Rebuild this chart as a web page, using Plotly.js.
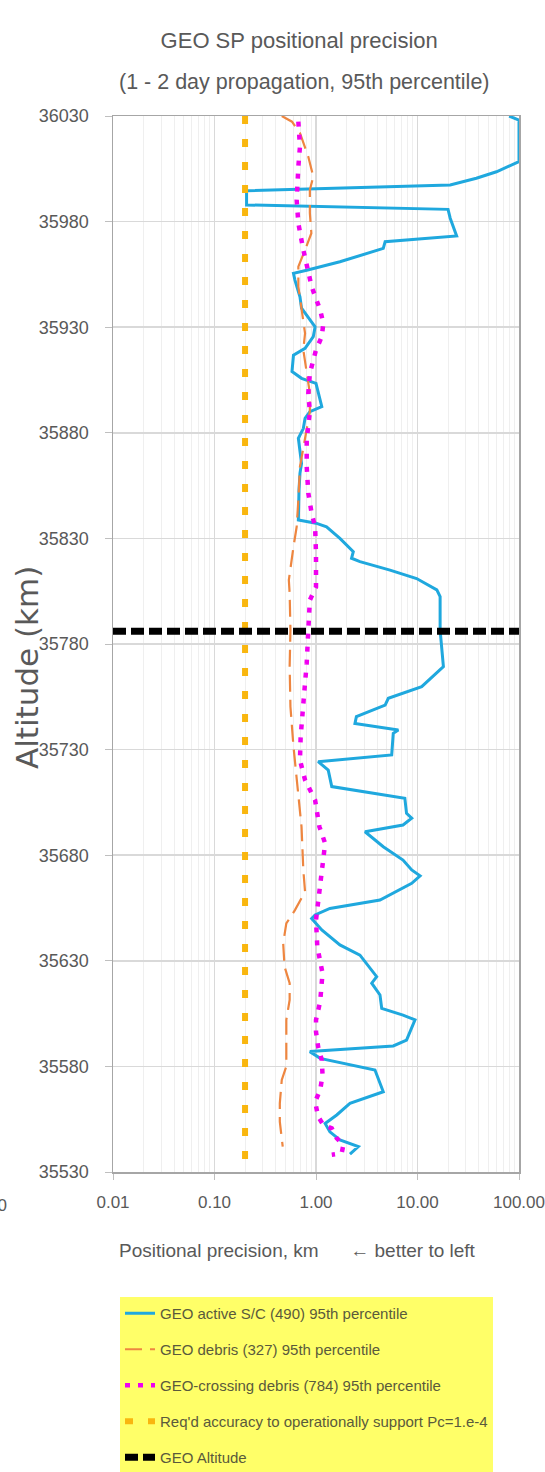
<!DOCTYPE html>
<html>
<head>
<meta charset="utf-8">
<script src="https://cdn.plot.ly/plotly-3.0.1.min.js"></script>
<style>html,body{margin:0;padding:0;background:#fff;}#chart{width:545px;height:1472px;}</style>
</head>
<body>
<div id="chart"></div>
<script>
// ---- data ----
const altActive = [36030,36028,36008.4,36003.6,36000.5,35997.3,35994.6,35987.9,35985.8,35981.6,35973.2,35970.5,35967.3,35961,35957,35955.5,35952.3,35944.4,35939,35930.2,35925.5,35920,35916.8,35909,35905.8,35903.4,35892.4,35890,35886.9,35882,35877.4,35870.3,35865.5,35860.8,35852.9,35838.7,35837.2,35835.5,35830,35823.7,35820.6,35819,35815,35811,35805.6,35802.4,35786.6,35769.3,35759.8,35754.3,35751.1,35745.6,35742.4,35739.3,35737.7,35727.5,35724.3,35720.3,35712.5,35707,35699.8,35697.5,35694.3,35691.1,35686.4,35684,35677.7,35673,35670.2,35666.7,35658.8,35654.8,35651.7,35650,35644.6,35637.5,35632.7,35624.1,35622.5,35619.4,35613.8,35607.5,35604.3,35602,35592.5,35589.7,35587,35583.8,35578.3,35568,35562.5,35557,35553,35549,35545.2,35542,35538.5];
const valActive = [80,100,100,60,38,21,0.207,0.207,20,21,24.3,4.8,4.6,1.72,0.81,0.6,0.62,0.695,0.72,0.98,0.94,0.78,0.6,0.58,0.72,1.0,1.14,0.87,0.78,0.75,0.67,0.695,0.72,0.695,0.68,0.67,1.0,1.27,1.72,2.33,2.24,2.71,5.36,9.8,15.5,16.7,16.7,18,11,5.16,4.8,2.5,2.42,6.47,5.77,5.57,1.05,1.32,1.43,7.5,7.8,8.77,7.2,3.04,3.96,4.6,7.2,8.77,10.6,8.77,4.27,1.37,0.98,0.906,1.14,1.72,2.71,3.67,3.96,3.54,4.27,4.44,7.2,9.45,7.8,5.77,0.87,1.1,3.81,4.6,2.16,1.6,1.23,1.37,1.72,2.61,2.16];

const altDebris = [36030,36027.3,36022,36010.7,36001.3,35995,35984,35974.5,35966.6,35958.7,35949.2,35939.7,35927.1,35919.2,35908.2,35898.7,35890,35878.2,35864,35848.2,35835.5,35826,35810.3,35804,35786.6,35769.3,35750.3,35731.4,35715.6,35693.5,35673,35662.7,35654,35647.7,35638.3,35627.2,35619.4,35611.5,35602,35591,35580,35573.6,35562.5,35553.8,35542];
const valDebris = [0.46,0.58,0.695,0.84,0.94,0.87,0.87,0.9,0.78,0.67,0.67,0.72,0.78,0.75,0.81,0.87,0.87,0.78,0.695,0.67,0.645,0.6,0.54,0.55,0.56,0.55,0.56,0.6,0.645,0.72,0.75,0.78,0.62,0.51,0.475,0.49,0.55,0.55,0.51,0.51,0.51,0.46,0.44,0.44,0.47];

const altCrossing = [36027.3,36015.5,36006,35990.2,35979.2,35966.6,35949.2,35938.1,35931.8,35925.5,35919.2,35908.2,35898.7,35890,35876.6,35864,35851.4,35841.9,35835.5,35823,35807,35800.8,35786.6,35770.9,35755,35736.1,35725.1,35715.6,35706.1,35693.5,35685.6,35672.2,35658.8,35649.3,35636.7,35624.1,35610.8,35602,35596.4,35589.3,35583,35575.9,35568.8,35563.3,35556.2,35552.3,35550.7,35546,35542.8,35538.9,35538.2];
const valCrossing = [0.67,0.695,0.67,0.645,0.67,0.75,0.906,1.1,1.18,1.14,1.0,0.87,0.84,0.87,0.81,0.81,0.84,0.906,0.98,1.0,1.0,0.87,0.84,0.81,0.76,0.706,0.695,0.78,0.98,1.08,1.23,1.14,1.05,1.0,1.03,1.16,1.1,1.0,1.0,1.05,1.14,1.16,1.1,0.98,1.05,1.18,1.43,1.6,1.86,1.79,1.43];

const altRequired = [36030, 35530];
const valRequired = [0.2, 0.2];

const altGeo = [35786, 35786];
const valGeo = [0.01, 100];

const seriesNames = [
  'GEO active S/C (490) 95th percentile',
  'GEO debris (327) 95th percentile',
  'GEO-crossing debris (784) 95th percentile',
  "Req'd accuracy to operationally support Pc=1.e-4",
  'GEO Altitude'
];

const xTickVals = [0.01, 0.1, 1, 10, 100];
const xTickText = ['0.01', '0.10', '1.00', '10.00', '100.00'];
const yTickVals = [35530, 35580, 35630, 35680, 35730, 35780, 35830, 35880, 35930, 35980, 36030];
const yTickText = yTickVals.map(String);

const titleLine1 = 'GEO SP positional precision';
const titleLine2 = '(1 - 2 day propagation, 95th percentile)';
const xTitle = 'Positional precision, km\u00A0\u00A0\u00A0\u00A0\u00A0 \u2190 better to left';
const yTitle = 'Altitude (km)';

// ---- chart ----
const SANS = 'Liberation Sans, Arial, sans-serif';
const GRAY = '#595959';

const traces = [
  {x: valActive, y: altActive, name: seriesNames[0], legendgroup: 'g1', mode: 'lines',
   line: {color: '#1FA8DE', width: 3}},
  {x: valDebris, y: altDebris, name: seriesNames[1], legendgroup: 'g2', mode: 'lines',
   line: {color: '#EE8640', width: 2.2, dash: '17px,8px'}},
  {x: valCrossing, y: altCrossing, name: seriesNames[2], legendgroup: 'g3', mode: 'lines',
   line: {color: '#F000F0', width: 4.5, dash: '5px,8px'}},
  {x: valRequired, y: altRequired, name: seriesNames[3], legendgroup: 'g4', mode: 'lines',
   line: {color: '#F9B60F', width: 6, dash: '8px,15px'}},
  {x: valGeo, y: altGeo, name: seriesNames[4], legendgroup: 'g5', mode: 'lines',
   line: {color: '#000000', width: 7, dash: '13px,5px'}}
].map(t => Object.assign({type: 'scatter', hoverinfo: 'none'}, t));

const layout = {
  width: 545, height: 1472,
  font: {family: SANS, color: GRAY},
  paper_bgcolor: '#ffffff', plot_bgcolor: '#ffffff',
  margin: {l: 113, r: 26, t: 116, b: 300, autoexpand: false},
  showlegend: true,
  title: {text: titleLine1, font: {family: SANS, size: 22, color: GRAY},
          x: 0.549, xref: 'container', xanchor: 'center', y: 1 - 40/1472, yref: 'container', yanchor: 'middle'},
  xaxis: {
    type: 'log', range: [-2, 2],
    tickvals: xTickVals, ticktext: xTickText, ticklabeloverflow: 'allow',
    tickfont: {family: SANS, size: 17, color: GRAY},
    ticks: 'outside', ticklen: 6, tickcolor: '#bfbfbf', ticklabelstandoff: 8,
    showgrid: true, gridcolor: '#d9d9d9', gridwidth: 1.2,
    minor: {dtick: 'D1', showgrid: true, gridcolor: '#efefef', gridwidth: 1, ticks: ''},
    showline: true, linecolor: '#a6a6a6', linewidth: 1.5, mirror: true,
    zeroline: false, fixedrange: true
  },
  yaxis: {
    range: [35530, 36030],
    tickvals: yTickVals, ticktext: yTickText,
    tickfont: {family: SANS, size: 18, color: GRAY},
    ticks: 'outside', ticklen: 7, tickcolor: '#bfbfbf', ticklabelstandoff: 12,
    showgrid: true, gridcolor: '#d9d9d9', gridwidth: 1.5,
    showline: true, linecolor: '#a6a6a6', linewidth: 1.5, mirror: true,
    zeroline: false, fixedrange: true
  },
  legend: {
    x: (120 - 113) / 406, y: (1172 - 1297) / 1056, xanchor: 'left', yanchor: 'top',
    bgcolor: '#FFFF68', borderwidth: 0,
    font: {family: SANS, size: 15, color: '#5a5a3c'},
    tracegroupgap: 13.5, itemwidth: 30, traceorder: 'grouped'
  },
  annotations: [
    {text: titleLine2, xref: 'paper', yref: 'paper', x: (304 - 113) / 406, y: (1172 - 82) / 1056,
     xanchor: 'center', yanchor: 'middle', showarrow: false,
     font: {family: SANS, size: 21.5, color: GRAY}},
    {text: xTitle, xref: 'paper', yref: 'paper', x: (117 - 113) / 406, y: (1172 - 1250) / 1056,
     xanchor: 'left', yanchor: 'middle', showarrow: false,
     font: {family: SANS, size: 19, color: GRAY}},
    {text: yTitle, xref: 'paper', yref: 'paper', x: (27 - 113) / 406, y: (1172 - 668) / 1056,
     xanchor: 'center', yanchor: 'middle', textangle: -90, showarrow: false,
     font: {family: 'DejaVu Sans, Verdana, sans-serif', size: 31, color: GRAY}},
    {text: '00', xref: 'paper', yref: 'paper', x: (9 - 113) / 406, y: (1172 - 1205) / 1056,
     xanchor: 'right', yanchor: 'middle', showarrow: false,
     font: {family: SANS, size: 17, color: GRAY}}
  ]
};

Plotly.newPlot('chart', traces, layout, {staticPlot: true, displayModeBar: false});
</script>
</body>
</html>
